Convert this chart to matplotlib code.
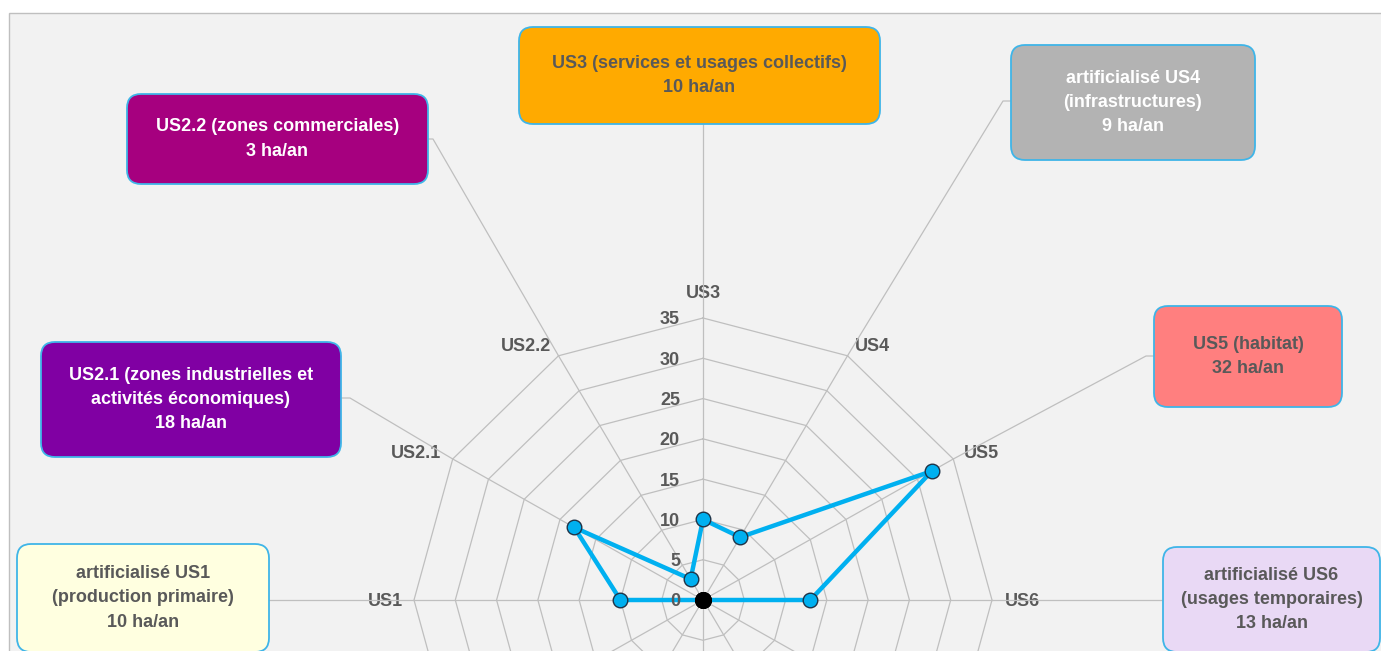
import numpy as np
import matplotlib
matplotlib.use("Agg")
import matplotlib.pyplot as plt
from matplotlib.patches import FancyBboxPatch, Rectangle
from matplotlib.lines import Line2D

# ---------------- data ----------------
categories = ["US3", "US4", "US5", "US6", "", "", "", "", "", "US1", "US2.1", "US2.2"]
values = [10, 9, 32, 13, 0, 0, 0, 0, 0, 10, 18, 3]
r_ticks = [0, 5, 10, 15, 20, 25, 30, 35]
r_max = 35

box_names = ["US3", "US4", "US5", "US6", "US1", "US2.1", "US2.2"]
box_titles = ["US3 (services et usages collectifs)",
              "artificialisé US4\n(infrastructures)",
              "US5 (habitat)",
              "artificialisé US6\n(usages temporaires)",
              "artificialisé US1\n(production primaire)",
              "US2.1 (zones industrielles et\nactivités économiques)",
              "US2.2 (zones commerciales)"]
box_values = [10, 9, 32, 13, 10, 18, 3]
unit = "ha/an"

# ---------------- layout / style ----------------
W, H, DPI = 1381, 651, 100
CX, CY = 703, 600          # centre of the radar (pixels, top-left origin)
RX, RY = 289, 282          # pixel radius of the outer ring

GRID = "#BFBFBF"
TXT = "#595959"
LINE = "#00B0F0"
FONT = "Liberation Sans"
FS = 13

# label offsets from the outer vertex (pixels, y up)
label_off = {
    "US3": (0, 20, "center"), "US4": (7, 5, "left"), "US5": (11, 1, "left"),
    "US6": (13, -6.5, "left"), "US1": (-11, -6.5, "right"),
    "US2.1": (-12, 1, "right"), "US2.2": (-7, 5, "right"),
}

# box rects (x0, y0, x1, y1) in px (top-left origin), colours, leader path
box_style = {
    "US3":   dict(rect=(519, 27, 880, 124),  fc="#FFAA00", tc=TXT,     leader=[(703, 124)]),
    "US4":   dict(rect=(1011, 45, 1255, 160), fc="#B3B3B3", tc="white", leader=[(1003, 101), (1011, 101)]),
    "US5":   dict(rect=(1154, 306, 1342, 407), fc="#FF7F7F", tc=TXT,    leader=[(1146, 356), (1154, 356)]),
    "US6":   dict(rect=(1163, 547, 1380, 652), fc="#E9D9F5", tc=TXT,    leader=[(1163, 600)]),
    "US1":   dict(rect=(17, 544, 269, 652),   fc="#FFFFE0", tc=TXT,     leader=[(269, 600)]),
    "US2.1": dict(rect=(41, 342, 341, 457),   fc="#8000A3", tc="white", leader=[(350, 398), (341, 398)]),
    "US2.2": dict(rect=(127, 94, 428, 184),   fc="#A6007F", tc="white", leader=[(433, 139), (428, 139)]),
}

fig = plt.figure(figsize=(W / DPI, H / DPI), dpi=DPI, facecolor="white")

# background panel
panel = Rectangle((9 / DPI, -0.1), (W - 9) / DPI + 0.2, (H - 13) / DPI + 0.1,
                  transform=fig.dpi_scale_trans, fc="#F2F2F2", ec=GRID, lw=1.0, zorder=-5)
fig.add_artist(panel)

ax = fig.add_axes([(CX - RX) / W, (H - CY - RY) / H, 2 * RX / W, 2 * RY / H],
                  projection="polar")
ax.set_aspect("auto")
ax.set_theta_zero_location("N")
ax.set_theta_direction(-1)
ax.set_ylim(0, r_max)
ax.set_axis_off()

n = len(categories)
theta = np.arange(n) * 2 * np.pi / n
theta_c = np.append(theta, theta[0])

# rings
for r in r_ticks[1:]:
    ax.plot(theta_c, [r] * (n + 1), color=GRID, lw=0.9, zorder=1, clip_on=False)
# spokes
for th in theta:
    ax.plot([th, th], [0, r_max], color=GRID, lw=0.9, zorder=1, clip_on=False)

# data
vals_c = values + [values[0]]
ax.plot(theta_c, vals_c, color=LINE, lw=3.2, zorder=3, clip_on=False)
for th, v in zip(theta, values):
    if v > 0:
        ax.plot([th], [v], "o", ms=10.5, mfc=LINE, mec="#1F3347", mew=1.0, zorder=4, clip_on=False)
    else:
        ax.plot([th], [v], "o", ms=11, mfc="black", mec="black", mew=1.0, zorder=4, clip_on=False)

# radial tick labels
for t in r_ticks:
    ax.annotate(str(t), xy=(0, t), xytext=(-23, -6.5), textcoords="offset pixels",
                ha="right", va="baseline", fontsize=FS, fontweight="bold", color=TXT,
                family=FONT, zorder=5, annotation_clip=False)

# category labels
for th, cat in zip(theta, categories):
    if not cat:
        continue
    dx, dy, ha = label_off[cat]
    ax.annotate(cat, xy=(th, r_max), xytext=(dx, dy), textcoords="offset pixels",
                ha=ha, va="baseline", fontsize=FS, fontweight="bold", color=TXT,
                family=FONT, zorder=5, annotation_clip=False)

# leaders and boxes
cat_theta = {c: th for c, th in zip(categories, theta) if c}
for name, title, val in zip(box_names, box_titles, box_values):
    st = box_style[name]
    vx, vy = ax.transData.transform((cat_theta[name], r_max))
    xs = [vx / DPI] + [p[0] / DPI for p in st["leader"]]
    ys = [vy / DPI] + [(H - p[1]) / DPI for p in st["leader"]]
    fig.add_artist(Line2D(xs, ys, transform=fig.dpi_scale_trans, color=GRID, lw=0.9, zorder=1))

    x0, y0, x1, y1 = st["rect"]
    box = FancyBboxPatch((x0 / DPI, (H - y1) / DPI), (x1 - x0) / DPI, (y1 - y0) / DPI,
                         boxstyle="round,pad=0,rounding_size=0.14",
                         transform=fig.dpi_scale_trans, fc=st["fc"], ec="#3FB5E8",
                         lw=1.3, zorder=5)
    fig.add_artist(box)
    fig.text(((x0 + x1) / 2) / W, 1 - ((y0 + y1) / 2) / H, f"{title}\n{val} {unit}",
             ha="center", va="center", multialignment="center", linespacing=1.55,
             fontsize=FS, fontweight="bold", color=st["tc"], family=FONT, zorder=6)

fig.savefig("out.png", dpi=DPI, facecolor="white")
